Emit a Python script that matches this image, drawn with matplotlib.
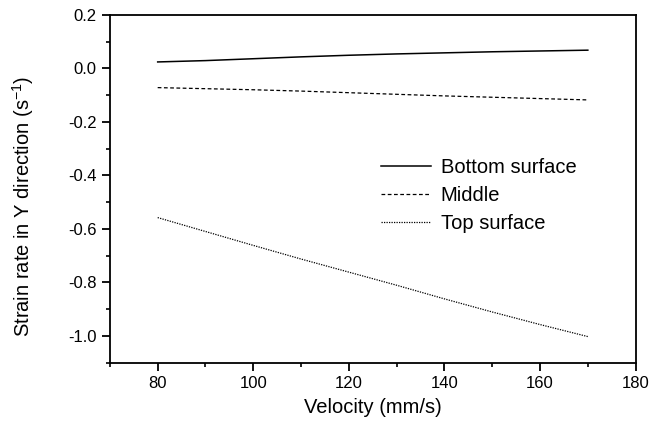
import numpy as np
import matplotlib.pyplot as plt
from matplotlib.ticker import MultipleLocator

plt.rcParams['font.family'] = ['Liberation Sans', 'DejaVu Sans']
plt.rcParams['mathtext.fontset'] = 'custom'
plt.rcParams['mathtext.rm'] = 'Liberation Sans'

# データ
velocity = [80, 90, 100, 110, 120, 130, 140, 150, 160, 170]
bottom = [0.024, 0.029, 0.036, 0.043, 0.049, 0.054, 0.058, 0.062, 0.065, 0.068]
middle = [-0.072, -0.076, -0.080, -0.085, -0.091, -0.097, -0.103, -0.108, -0.113, -0.118]
top = [-0.558, -0.610, -0.662, -0.713, -0.762, -0.811, -0.862, -0.911, -0.958, -1.003]

fig = plt.figure(figsize=(6.58, 4.25), dpi=100)
ax = fig.add_axes([0.167, 0.147, 0.799, 0.818])

ax.plot(velocity, bottom, color="k", lw=1.1, ls="-", label="Bottom surface")
ax.plot(velocity, middle, color="k", lw=0.9, ls=(0, (3, 2)), label="Middle")
ax.plot(velocity, top, color="k", lw=0.9, ls=(0, (1, 1)), label="Top surface")

ax.set_xlim(70, 180)
ax.set_ylim(-1.1, 0.2)
ax.xaxis.set_minor_locator(MultipleLocator(10))
ax.yaxis.set_major_locator(MultipleLocator(0.2))
ax.yaxis.set_minor_locator(MultipleLocator(0.1))
ax.set_xticks([80, 100, 120, 140, 160, 180])
ax.yaxis.set_major_formatter(plt.FuncFormatter(lambda v, p: f"{v:.1f}"))

for s in ax.spines.values():
    s.set_linewidth(1.3)
ax.tick_params(which="major", direction="out", length=6, width=1.3, labelsize=12)
ax.tick_params(which="minor", direction="out", length=3, width=1.2)

ax.set_xlabel("Velocity (mm/s)", fontsize=14.5, labelpad=5)
ax.set_ylabel(r"Strain rate in Y direction (s$^{\mathregular{-1}}$)", fontsize=14.5)
ax.yaxis.set_label_coords(-0.14, 0.45)

ax.legend(loc="upper left", bbox_to_anchor=(0.516, 0.588), frameon=False,
          fontsize=14.5, handlelength=2.45, handletextpad=0.5, labelspacing=0.45,
          borderpad=0, borderaxespad=0)

plt.savefig("out.png", dpi=100)
